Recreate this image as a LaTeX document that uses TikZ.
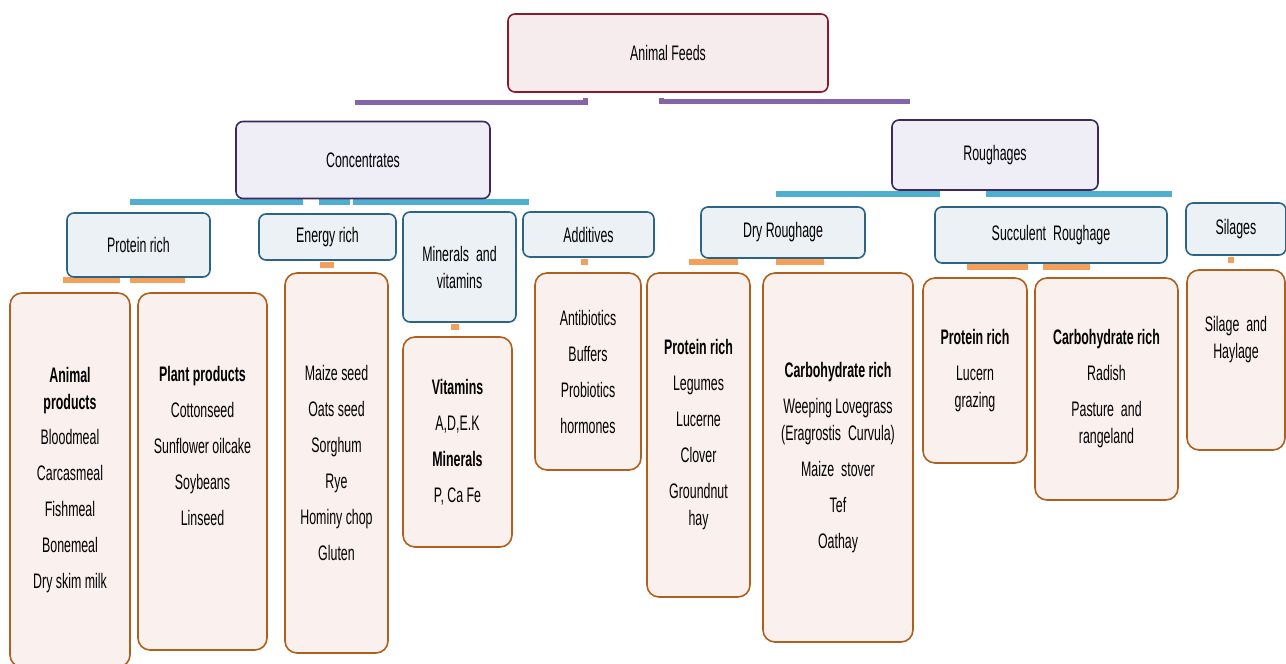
\documentclass[tikz,border=0pt]{standalone}
\usepackage{fontspec}
\setmainfont{Liberation Sans}[FakeStretch=0.59]
\usepackage{tikz}
\usetikzlibrary{calc,backgrounds}

\definecolor{feedred}{HTML}{8B1A2B}
\definecolor{feedfill}{HTML}{F6ECEE}
\definecolor{mainpurple}{HTML}{3C2A5E}
\definecolor{mainfill}{HTML}{EFEDF5}
\definecolor{barpurple}{HTML}{8466A8}
\definecolor{subteal}{HTML}{2B6484}
\definecolor{subfill}{HTML}{ECF1F6}
\definecolor{barblue}{HTML}{4FAFCF}
\definecolor{leafbrown}{HTML}{B0601E}
\definecolor{leaffill}{HTML}{FAF0EE}
\definecolor{barorange}{HTML}{F5A05A}

\tikzset{
  rootbox/.style={draw=feedred, fill=feedfill, line width=1.6pt, rounded corners=7pt, inner sep=0pt, align=center},
  mainbox/.style={draw=mainpurple, fill=mainfill, line width=1.6pt, rounded corners=7pt, inner sep=0pt, align=center},
  subbox/.style={draw=subteal, fill=subfill, line width=1.6pt, rounded corners=7pt, inner sep=0pt, align=center},
  leafbox/.style={draw=leafbrown, fill=leaffill, line width=1.6pt, rounded corners=12pt, inner sep=0pt, align=center},
  pbar/.style={draw=barpurple, line width=5pt},
  bbar/.style={draw=barblue, line width=6pt},
  obar/.style={draw=barorange, line width=6pt}
}

\begin{document}
\begin{tikzpicture}[x=1pt, y=-1pt, font=\fontsize{21}{27}\selectfont]
  \useasboundingbox (0,0) rectangle (1286,664);
  \clip (0,0) rectangle (1286,664);

  %%%%% TOP %%%%%
  \node[rootbox, minimum width=320pt, minimum height=78pt] (feeds) at (668,53) {Animal Feeds};
  \node[mainbox, minimum width=254pt, minimum height=77pt] (conc) at (363,160) {Concentrates};
  \node[mainbox, minimum width=206pt, minimum height=70pt] (rough) at (995,155) {Roughages};

  %%%%% SECOND ROW %%%%%
  \node[subbox, minimum width=143pt, minimum height=64pt] (prot) at (138.5,245) {Protein rich};
  \node[subbox, minimum width=137pt, minimum height=46pt] (energy) at (327.5,237) {Energy rich};
  \node[subbox, minimum width=113pt, minimum height=110pt] (minvit) at (459.5,267) {Minerals\, and\\vitamins};
  \node[subbox, minimum width=131pt, minimum height=45pt] (addit) at (588.5,234.5) {Additives};
  \node[subbox, minimum width=164pt, minimum height=51pt] (dryr) at (783,232.5) {Dry Roughage};
  \node[subbox, minimum width=232pt, minimum height=56pt] (succ) at (1051,235) {Succulent\, Roughage};
  \node[subbox, minimum width=100pt, minimum height=52pt] (sil) at (1236,229) {Silages};

  %%%%% LEAVES %%%%%
  \node[leafbox, minimum width=120pt, minimum height=374pt] (animal) at (70,480)
    {\textbf{Animal}\\\textbf{products}\\[8pt]Bloodmeal\\[9pt]Carcasmeal\\[9pt]Fishmeal\\[9pt]Bonemeal\\[9pt]Dry skim milk};
  \node[leafbox, minimum width=129pt, minimum height=357pt] (plant) at (202.5,471.5)
    {\textbf{Plant products}\\[9pt]Cottonseed\\[9pt]Sunflower oilcake\\[9pt]Soybeans\\[9pt]Linseed\\[25pt]};
  \node[leafbox, minimum width=103pt, minimum height=380pt] (grains) at (336.5,463)
    {Maize seed\\[9pt]Oats seed\\[9pt]Sorghum\\[9pt]Rye\\[9pt]Hominy chop\\[9pt]Gluten};
  \node[leafbox, minimum width=109pt, minimum height=210pt] (vitmin) at (457.5,442)
    {\textbf{Vitamins}\\[9pt]A,D,E.K\\[9pt]\textbf{Minerals}\\[9pt]P, Ca Fe};
  \node[leafbox, minimum width=106pt, minimum height=197pt] (addlist) at (588,371.5)
    {Antibiotics\\[9pt]Buffers\\[9pt]Probiotics\\[9pt]hormones};
  \node[leafbox, minimum width=103pt, minimum height=324pt] (dryprot) at (698.5,435)
    {\textbf{Protein rich}\\[9pt]Legumes\\[9pt]Lucerne\\[9pt]Clover\\[9pt]Groundnut\\hay};
  \node[leafbox, minimum width=150pt, minimum height=369pt] (drycarb) at (838,457.5)
    {\textbf{Carbohydrate rich}\\[9pt]Weeping Lovegrass\\(Eragrostis\, Curvula)\\[9pt]Maize\, stover\\[9pt]Tef\\[9pt]Oathay};
  \node[leafbox, minimum width=104pt, minimum height=185pt] (succprot) at (975,370.5)
    {\textbf{Protein rich}\\[9pt]Lucern\\grazing};
  \node[leafbox, minimum width=143pt, minimum height=222pt] (succcarb) at (1106.5,389)
    {\textbf{Carbohydrate rich}\\[9pt]Radish\\[9pt]Pasture\, and\\rangeland};
  \node[leafbox, minimum width=98pt, minimum height=180pt] (silist) at (1236,360)
    {Silage\, and\\Haylage\\[18pt]};

  %%%%% CONNECTORS %%%%%
  \begin{scope}[on background layer]
    \draw[pbar] ($(feeds.south)+(-83,5)$) |- ($(conc.north)+(-8,-18)$);
    \draw[pbar] ($(feeds.south)+(-7,5)$) |- ($(rough.north)+(-85,-18)$);

    \draw[bbar] ($(conc.south)+(-233,3)$) -- ($(conc.south)+(-60,3)$);
    \draw[bbar] ($(conc.south)+(-44,3)$) -- ($(conc.south)+(-13,3)$);
    \draw[bbar] ($(conc.south)+(-10,3)$) -- ($(conc.south)+(166,3)$);
    \draw[bbar] ($(rough.south)+(-219,3)$) -- ($(rough.south)+(-55,3)$);
    \draw[bbar] ($(rough.south)+(-9,3)$) -- ($(rough.south)+(177,3)$);

    \draw[obar] ($(prot.south)+(-76,2)$) -- ($(prot.south)+(-19,2)$);
    \draw[obar] ($(prot.south)+(-9,2)$) -- ($(prot.south)+(46,2)$);
    \draw[obar] ($(energy.south)+(-8,4)$) -- ($(energy.south)+(6,4)$);
    \draw[obar] ($(minvit.south)+(-9,4)$) -- ($(minvit.south)+(-1,4)$);
    \draw[obar] ($(addit.south)+(-8,4)$) -- ($(addit.south)+(-1,4)$);
    \draw[obar] ($(dryr.south)+(-94,3)$) -- ($(dryr.south)+(-45,3)$);
    \draw[obar] ($(dryr.south)+(-7,3)$) -- ($(dryr.south)+(41,3)$);
    \draw[obar] ($(succ.south)+(-84,3)$) -- ($(succ.south)+(-23,3)$);
    \draw[obar] ($(succ.south)+(-8,3)$) -- ($(succ.south)+(39,3)$);
    \draw[obar] ($(sil.south)+(-8,4)$) -- ($(sil.south)+(-2,4)$);
  \end{scope}
\end{tikzpicture}
\end{document}
